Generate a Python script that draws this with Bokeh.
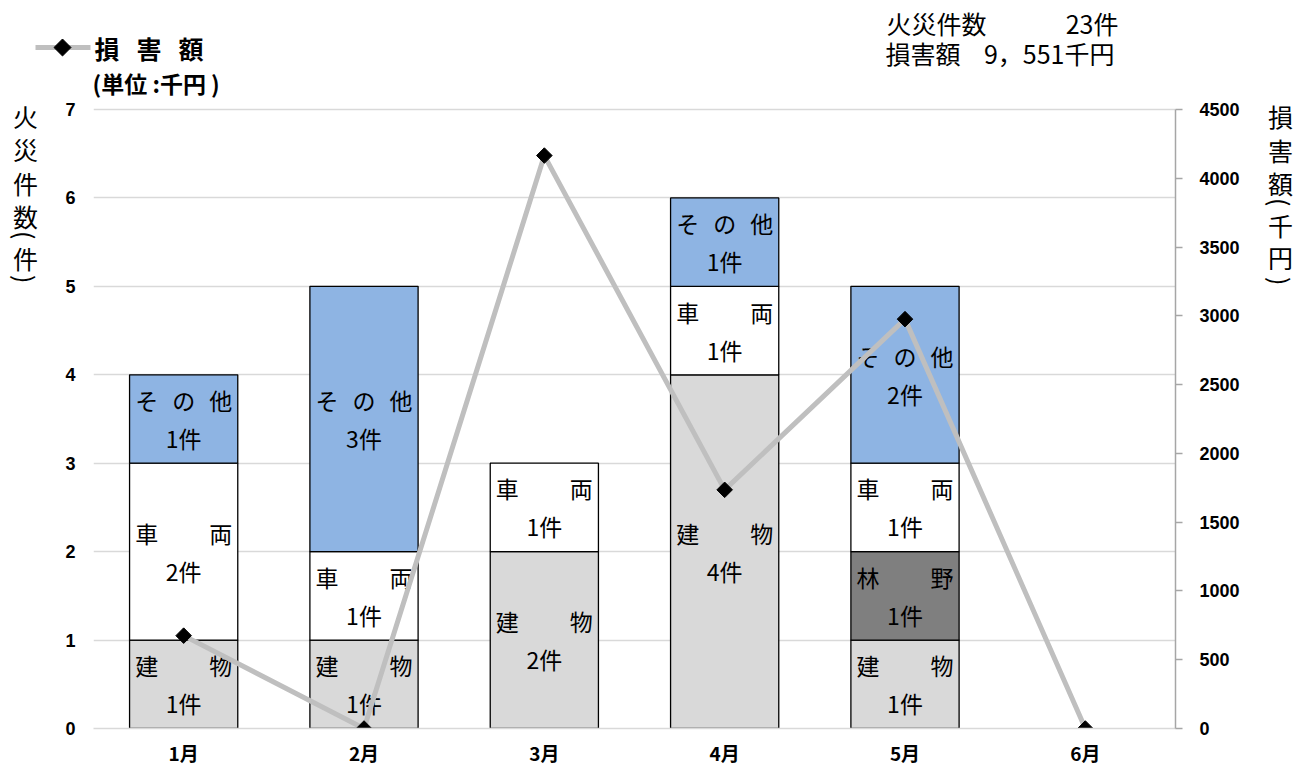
import math
from bokeh.plotting import figure
from bokeh.layouts import column, row
from bokeh.models import (ColumnDataSource, Range1d, LinearAxis, FixedTicker, FactorRange)
from bokeh.core.properties import value
from bokeh.embed import file_html
from bokeh.resources import INLINE

# ---------------- data ----------------
months = ["1月", "2月", "3月", "4月", "5月", "6月"]
type_names = ["建物", "林野", "車両", "その他"]
type_chars = [["建", "物"], ["林", "野"], ["車", "両"], ["そ", "の", "他"]]
building = [1, 1, 2, 4, 1, 0]
forest = [0, 0, 0, 0, 1, 0]
vehicle = [2, 1, 1, 1, 1, 0]
other = [1, 3, 0, 1, 2, 0]
damage = [675, 0, 4165, 1735, 2976, 0]   # 千円
left_max, right_max = 7, 4500
left_ticks = [0, 1, 2, 3, 4, 5, 6, 7]
right_ticks = [0, 500, 1000, 1500, 2000, 2500, 3000, 3500, 4000, 4500]
series_name = "損\u00a0\u00a0\u00a0害\u00a0\u00a0\u00a0額"
unit_text = "(単位\u00a0:千円\u00a0)"
total_count_label, total_count_text = "火災件数", "23件"
total_damage_label, total_damage_text = "損害額", "9，551千円"
left_title = ["火", "災", "件", "数", "(", "件", ")"]
right_title = ["損", "害", "額", "(", "千", "円", ")"]

# ---------------- style / layout ----------------
colors = ["#D9D9D9", "#7F7F7F", "#FFFFFF", "#8EB4E3"]
LINE_C = "#BFBFBF"
JP = "Noto Sans CJK JP"
NUM = "Liberation Sans"

TOTAL_W = 1298
HEAD_H = 98
BODY_H = 670
LT_W, RT_W = 45, 43
MAIN_W = TOTAL_W - LT_W - RT_W
LB, RB, TB, BB = 48, 80, 2, 39
FRAME_TOP = HEAD_H + TB               # page y of frame top (100)
FRAME_BOT = HEAD_H + BODY_H - BB      # page y of frame bottom (729)
PLOT_TOP = 109                        # page y of the value 7 / 4500
scale = (FRAME_BOT - FRAME_TOP) / (FRAME_BOT - PLOT_TOP)


def blank_fig(w, h, xr, yr, tb=0, bb=0):
    f = figure(width=w, height=h, x_range=Range1d(*xr), y_range=Range1d(*yr),
               title=None, output_backend="svg", toolbar_location=None,
               x_axis_type=None, y_axis_type=None,
               min_border=0, min_border_left=0, min_border_right=0,
               min_border_top=tb, min_border_bottom=bb)
    f.outline_line_color = None
    f.xgrid.visible = False
    f.ygrid.visible = False
    return f


# ---------------- main chart ----------------
p = figure(x_range=FactorRange(*months), y_range=Range1d(0, left_max * scale), title=None,
           width=MAIN_W, height=BODY_H, output_backend="svg", toolbar_location=None,
           min_border_left=LB, min_border_right=RB, min_border_top=TB, min_border_bottom=BB)
p.outline_line_color = None
p.extra_y_ranges = {"dmg": Range1d(0, right_max * scale)}

p.xgrid.grid_line_color = None
p.ygrid.grid_line_color = "#D9D9D9"
p.ygrid.grid_line_width = 1.5

ly = p.yaxis[0]
ly.ticker = FixedTicker(ticks=left_ticks)
ly.axis_line_color = None
ly.major_tick_line_color = None
ly.minor_tick_line_color = None
ly.major_label_text_font = NUM
ly.major_label_text_font_style = "bold"
ly.major_label_text_font_size = "18px"
ly.major_label_text_color = "black"
ly.major_label_standoff = 12

xa = p.xaxis[0]
xa.axis_line_color = "#D9D9D9"
xa.axis_line_width = 1.5
xa.major_tick_line_color = None
xa.minor_tick_line_color = None
xa.major_label_text_font = JP
xa.major_label_text_font_style = "bold"
xa.major_label_text_font_size = "19px"
xa.major_label_text_color = "black"
xa.major_label_standoff = 4

ry = LinearAxis(y_range_name="dmg", ticker=FixedTicker(ticks=right_ticks),
                bounds=(0, right_max))
ry.axis_line_color = "#A6A6A6"
ry.axis_line_width = 1.5
ry.major_tick_line_color = "#A6A6A6"
ry.major_tick_line_width = 1.5
ry.major_tick_out = 7
ry.major_tick_in = 0
ry.minor_tick_line_color = None
ry.major_label_text_font = NUM
ry.major_label_text_font_style = "bold"
ry.major_label_text_font_size = "18px"
ry.major_label_text_color = "black"
ry.major_label_standoff = 17
p.add_layout(ry, "right")

series = [building, forest, vehicle, other]
bx, bb, bt, bc = [], [], [], []
nx, ny, nxo, nt = [], [], [], []
cx, cy, ct = [], [], []
for i, m in enumerate(months):
    cum = 0
    for j, s in enumerate(series):
        v = s[i]
        if v <= 0:
            continue
        bx.append(m); bb.append(cum); bt.append(cum + v); bc.append(colors[j])
        mid = cum + v / 2
        chars = type_chars[j]
        offs = [-37, 37] if len(chars) == 2 else [-37, 0, 37]
        for ch, o in zip(chars, offs):
            nx.append(m); ny.append(mid); nxo.append(o); nt.append(ch)
        cx.append(m); cy.append(mid); ct.append(f"{v}件")
        cum += v

bar_src = ColumnDataSource(dict(x=bx, bottom=bb, top=bt, color=bc))
p.vbar(x="x", bottom="bottom", top="top", width=0.6, source=bar_src,
       fill_color="color", line_color="black", line_width=1.3)

name_src = ColumnDataSource(dict(x=nx, y=ny, xo=nxo, t=nt))
p.text(x="x", y="y", text="t", x_offset="xo", y_offset=-19, source=name_src,
       text_font=value(JP), text_font_size="23px", text_align="center",
       text_baseline="middle", text_color="black")
cnt_src = ColumnDataSource(dict(x=cx, y=cy, t=ct))
p.text(x="x", y="y", text="t", y_offset=19, source=cnt_src,
       text_font=value(JP), text_font_size="23px", text_align="center",
       text_baseline="middle", text_color="black")

p.line(months, damage, y_range_name="dmg", line_color=LINE_C, line_width=5)
p.scatter(months, damage, y_range_name="dmg", marker="square", angle=math.pi / 4,
          size=11, fill_color="black", line_color="black")

# ---------------- header (pixel-like coords, y down) ----------------
hd = blank_fig(TOTAL_W, HEAD_H, (0, TOTAL_W), (HEAD_H, 0))
hd.line([35, 90], [47, 47], line_color=LINE_C, line_width=5)
hd.scatter([62], [47], marker="square", angle=math.pi / 4, size=12,
           fill_color="black", line_color="black")


def htext(f, x, y, t, size="25px", bold=False, align="left", angle=0.0):
    f.text(x=[x], y=[y], text=[t], text_font=value(JP), text_font_size=size,
           text_font_style="bold" if bold else "normal", text_align=align,
           text_baseline="middle", text_color="black", angle=angle)


htext(hd, 94, 47, series_name, bold=True)
htext(hd, 92, 82, unit_text, size="23px", bold=True)
htext(hd, 886, 22, total_count_label)
htext(hd, 1118, 22, total_count_text, align="right")
htext(hd, 885, 52, total_damage_label)
htext(hd, 1114, 52, total_damage_text, align="right")

# ---------------- vertical titles (frames aligned with the main frame) ----------------
lt = blank_fig(LT_W, BODY_H, (0, LT_W), (FRAME_BOT, FRAME_TOP), tb=TB, bb=BB)
left_y = [116, 149, 183, 216, 235, 258, 279]
for ch, y in zip(left_title, left_y):
    htext(lt, 25, y, ch, align="center", angle=(-math.pi / 2 if ch in "()" else 0.0))

rt = blank_fig(RT_W, BODY_H, (TOTAL_W - RT_W, TOTAL_W), (FRAME_BOT, FRAME_TOP), tb=TB, bb=BB)
right_y = [116, 150, 183, 202, 225, 257, 281]
for ch, y in zip(right_title, right_y):
    htext(rt, 1280, y, ch, align="center", angle=(-math.pi / 2 if ch in "()" else 0.0))

layout = column(hd, row(lt, p, rt, spacing=0), spacing=0)
open("out.html", "w").write(file_html(layout, INLINE))
